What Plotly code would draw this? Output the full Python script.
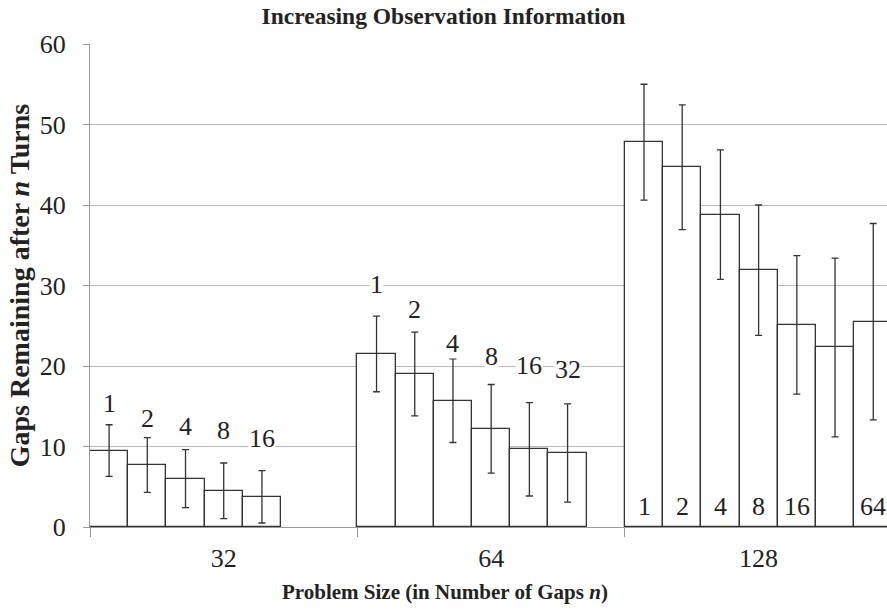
import plotly.graph_objects as go

categories = ["32", "64", "128"]
series_names = ["1", "2", "4", "8", "16", "32", "64"]

# mean values per series (one value per category; None = no bar)
values = {
    "1":  [9.5, 21.5, 47.8],
    "2":  [7.7, 19.0, 44.7],
    "4":  [6.0, 15.7, 38.8],
    "8":  [4.5, 12.2, 31.9],
    "16": [3.75, 9.65, 25.1],
    "32": [None, 9.2, 22.3],
    "64": [None, None, 25.5],
}
errors = {
    "1":  [3.2, 4.7, 7.2],
    "2":  [3.4, 5.2, 7.75],
    "4":  [3.6, 5.2, 8.05],
    "8":  [3.45, 5.5, 8.1],
    "16": [3.25, 5.8, 8.6],
    "32": [None, 6.1, 11.1],
    "64": [None, None, 12.2],
}
# label text per category (blank = no label)
label_text = {
    "32":  ["1", "2", "4", "8", "16", "", ""],
    "64":  ["1", "2", "4", "8", "16", "32", ""],
    "128": ["1", "2", "4", "8", "16", "", "64"],
}
# label heights (data units)
label_y = {
    "32":  [15.3, 13.5, 12.5, 12.0, 11.0, None, None],
    "64":  [30.1, 27.0, 22.8, 21.2, 20.1, 19.6, None],
    "128": [2.5, 2.5, 2.5, 2.5, 2.5, None, 2.5],
}

FONT = "Liberation Serif"
LINE = "#333333"
TXT = "#222"

fig = go.Figure()
for s in series_names:
    fig.add_trace(go.Bar(
        name=s, x=categories, y=values[s],
        marker=dict(color="white", line=dict(color=LINE, width=1.3)),
        error_y=dict(type="data", array=errors[s], visible=True,
                     color=LINE, thickness=1.3, width=3.5),
        showlegend=False,
    ))

n = len(series_names)
annotations = []
for ci, c in enumerate(categories):
    for si in range(n):
        t = label_text[c][si]
        ly = label_y[c][si]
        if not t or ly is None:
            continue
        xpos = ci - 0.5 + (si + 0.5) / n
        annotations.append(dict(
            x=xpos, y=ly, xref="x", yref="y", text=t, showarrow=False,
            font=dict(family=FONT, size=26, color=TXT),
            bgcolor="white", borderpad=0,
        ))

# x-axis title (centred on the page, as in the reference)
annotations.append(dict(
    x=0.445, y=0, xref="paper", yref="paper", xanchor="center", yanchor="middle",
    yshift=-65, showarrow=False,
    text="<b>Problem Size (in Number of Gaps <i>n</i>)</b>",
    font=dict(family=FONT, size=21, color=TXT),
))

fig.update_layout(
    width=887, height=612,
    barmode="group", bargap=0, bargroupgap=0,
    plot_bgcolor="white", paper_bgcolor="white",
    margin=dict(l=90, r=0, t=44, b=85),
    font=dict(family=FONT, color=TXT),
    title=dict(text="<b>Increasing Observation Information</b>",
               x=0.5, xanchor="center", y=0.974, yanchor="middle",
               font=dict(family=FONT, size=23.5, color=TXT)),
    annotations=annotations,
)
fig.update_xaxes(
    type="category", range=[-0.5, 2.48],
    showline=True, linecolor="#999", linewidth=1.3,
    ticks="outside", tickson="boundaries", ticklen=9, tickcolor="#999",
    ticklabelstandoff=8,
    tickfont=dict(family=FONT, size=26, color=TXT),
    showgrid=False,
)
fig.update_yaxes(
    range=[0, 60], dtick=10,
    showline=True, linecolor="#999", linewidth=1.3,
    ticks="outside", ticklen=6, tickcolor="#999",
    ticklabelstandoff=12,
    tickfont=dict(family=FONT, size=26, color=TXT),
    showgrid=True, gridcolor="#b8b8b8", gridwidth=1.3,
    zeroline=False,
    title=dict(text="<b>Gaps Remaining after <i>n</i> Turns</b>",
               font=dict(family=FONT, size=28, color=TXT), standoff=1),
)

fig.write_html("out.html")
